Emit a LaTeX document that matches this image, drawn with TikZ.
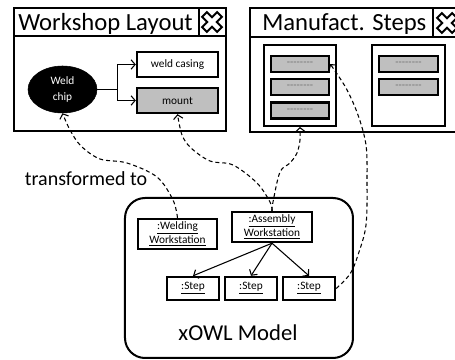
\documentclass[tikz,border=0pt]{standalone}
\usepackage{fontspec}
\setmainfont{Carlito}
\newfontfamily\plainf{Carlito}
\usetikzlibrary{arrows.meta,shapes.geometric}
\definecolor{barg}{HTML}{BFBFBF}
\definecolor{dashg}{HTML}{6F6F6F}
\begin{document}
\begin{tikzpicture}[x=0.75pt,y=-0.75pt,
  sz/.style 2 args={minimum width=#1*0.75pt, minimum height=#2*0.75pt},
  win/.style={draw, rectangle, line width=1.5pt, inner sep=0pt},
  box/.style={draw, rectangle, line width=1.8pt, inner sep=0pt, align=center,
    font=\fontsize{8.5}{10.5}\selectfont},
  bar/.style={box, fill=barg, text=dashg, font=\plainf\fontsize{8}{9}\selectfont},
  arr/.style={line width=0.8pt, -{Straight Barb[length=3pt,width=7pt]}},
  darr/.style={arr, dash pattern=on 3pt off 2.2pt},
  closex/.pic={\draw[line width=1.5pt, rotate=45]
    (-3.4,10.6)--(3.4,10.6)--(3.4,3.4)--(10.6,3.4)--(10.6,-3.4)--(3.4,-3.4)--(3.4,-10.6)
    --(-3.4,-10.6)--(-3.4,-3.4)--(-10.6,-3.4)--(-10.6,3.4)--(-3.4,3.4)--cycle;}
]
\useasboundingbox (0,0) rectangle (455,360);

% Workshop Layout window
\node[win, sz={212}{123}] (wsw) at (120,69.5) {};
\draw[line width=1.5pt] (14,36) -- (226,36) (199,8) -- (199,36);
\node[anchor=base west, inner sep=0pt, font=\fontsize{18.5}{20}\selectfont] (wst) at (18,31) {Workshop Layout};
\pic at (212,22) {closex};

\node[ellipse, draw, fill=black, sz={69}{47}, inner sep=0pt, text=white, align=center,
  font=\fontsize{8.5}{12}\selectfont] (chip) at (62.5,89.5) {Weld\\chip};
\node[box, sz={81}{25}] (casing) at (177.5,64.5) {weld casing};
\node[box, sz={81}{25}, fill=barg] (mount) at (177.5,100.5) {mount};
\draw[line width=0.8pt] (chip.east) -- ++(20,0) coordinate (j);
\draw[arr] (j) |- (casing.west);
\draw[arr] (j) |- (mount.west);

% Manufact. Steps window
\node[win, sz={210}{124}] (msw) at (355,70) {};
\draw[line width=1.5pt] (250,37) -- (460,37) (433,8) -- (433,37);
\node[anchor=base west, inner sep=0pt, font=\fontsize{18.5}{20}\selectfont] (mst) at (262,31) {Manufact. Steps};
\pic at (447,23) {closex};

\node[win, sz={72}{81}] (p1) at (300,85.5) {};
\node[win, sz={73}{81}] (p2) at (408.5,85.5) {};
\node[bar, sz={58}{16}] (b1) at (300,64) {--------};
\node[bar, sz={58}{16}] (b2) at (300,87) {--------};
\node[bar, sz={58}{16}] (b3) at (300,110.5) {--------};
\node[bar, sz={59}{16}] (b4) at (408.5,64) {--------};
\node[bar, sz={59}{16}] (b5) at (408.5,87) {--------};

% xOWL model
\node[draw, line width=1.5pt, rounded corners=15pt, sz={228}{160}, inner sep=0pt] (xowl) at (239,278) {};
\node[inner sep=0pt, font=\fontsize{17}{20}\selectfont] (xl) at (238,333) {xOWL Model};
\node[inner sep=0pt, font=\fontsize{15}{18}\selectfont] (tf) at (86,179) {transformed to};

\node[box, sz={79}{30}] (weld) at (177.5,234) {\underline{:Welding}\\\underline{Workstation}};
\node[box, sz={80}{30}] (asm) at (272,227) {\underline{:Assembly}\\\underline{Workstation}};
\node[box, sz={52}{23}] (s1) at (193,288.5) {\underline{:Step}};
\node[box, sz={52}{23}] (s2) at (251,288.5) {\underline{:Step}};
\node[box, sz={52}{23}] (s3) at (309,288.5) {\underline{:Step}};

\draw[arr] (asm.south) -- (s1.north);
\draw[arr] (asm.south) -- (s2.north);
\draw[arr] (asm.south) -- (s3.north);

% dashed transformation links
\draw[darr] plot[smooth, tension=0.55] coordinates {(weld.north) (173,200) (157,177) (127,163) (100,159) (81,146) (70,130) (chip.south)};
\draw[darr] plot[smooth, tension=0.55] coordinates {(asm.north) (270,202) (257,183) (233,165) (210,161) (191,148) (182,135) (mount.south)};
\draw[darr] plot[smooth, tension=0.55] coordinates {(asm.north) (273,202) (280,172) (290,163) (297,153) (300,140) (p1.south)};
\draw[darr] plot[smooth, tension=0.55] coordinates {(s3.east) (350,274) (358,255) (366,225) (367,180) (366,145) (358,115) (346,88) (b1.east)};
\end{tikzpicture}
\end{document}
